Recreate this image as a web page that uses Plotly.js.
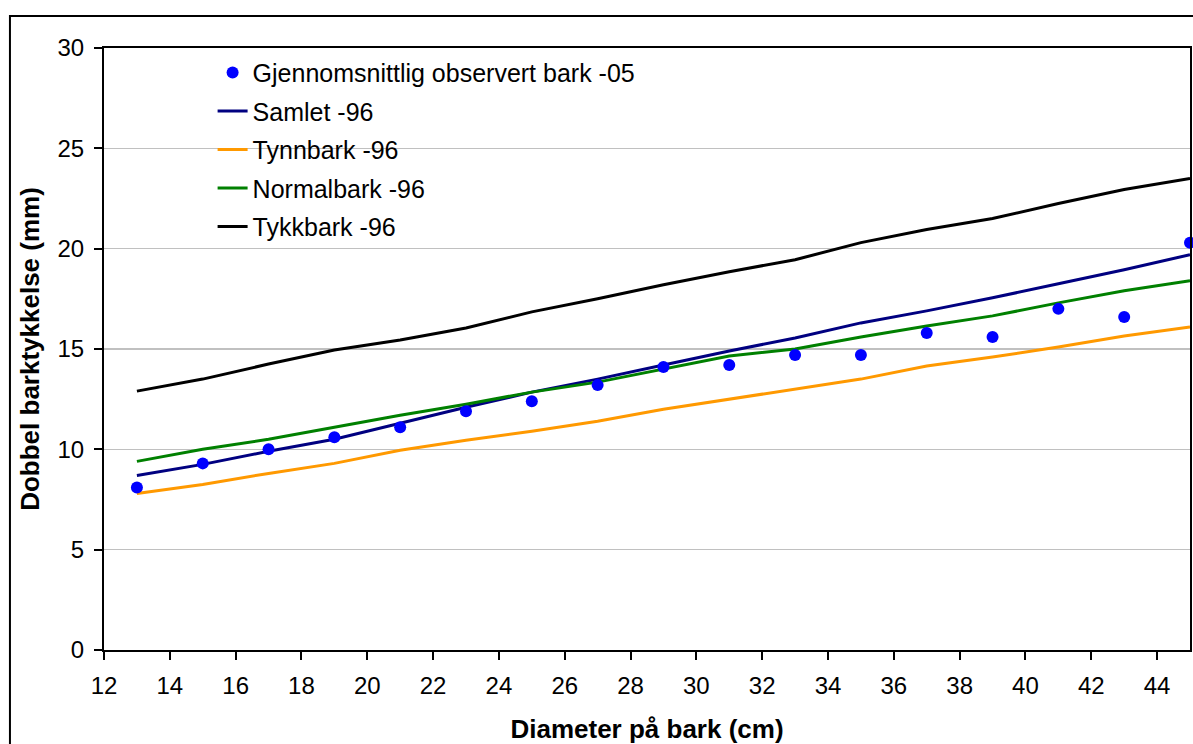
<!DOCTYPE html>
<html>
<head>
<meta charset="utf-8">
<script src="https://cdn.plot.ly/plotly-3.0.1.min.js"></script>
<style>
html,body{margin:0;padding:0;background:#fff;}
#chart{width:1193px;height:744px;}
</style>
</head>
<body>
<div id="chart"></div>
<script>
// Diameter på bark (cm)
const diameters = [13, 15, 17, 19, 21, 23, 25, 27, 29, 31, 33, 35, 37, 39, 41, 43, 45];

// Gjennomsnittlig observert bark -05
const observert05 = [8.1, 9.3, 10.0, 10.6, 11.1, 11.9, 12.4, 13.2, 14.1, 14.2, 14.7, 14.7, 15.8, 15.6, 17.0, 16.6, 20.3];
// Samlet -96
const samlet96 = [8.7, 9.25, 9.9, 10.5, 11.3, 12.1, 12.85, 13.5, 14.2, 14.9, 15.55, 16.3, 16.9, 17.55, 18.25, 18.95, 19.7];
// Tynnbark -96
const tynnbark96 = [7.8, 8.25, 8.8, 9.3, 9.95, 10.45, 10.9, 11.4, 12.0, 12.5, 13.0, 13.5, 14.15, 14.6, 15.1, 15.65, 16.1];
// Normalbark -96
const normalbark96 = [9.4, 10.0, 10.5, 11.1, 11.7, 12.25, 12.85, 13.35, 14.0, 14.65, 15.0, 15.6, 16.15, 16.65, 17.3, 17.9, 18.4];
// Tykkbark -96
const tykkbark96 = [12.9, 13.5, 14.25, 14.95, 15.45, 16.05, 16.85, 17.5, 18.2, 18.85, 19.45, 20.3, 20.95, 21.5, 22.25, 22.95, 23.5];

const seriesNames = ["Gjennomsnittlig observert bark -05", "Samlet -96", "Tynnbark -96", "Normalbark -96", "Tykkbark -96"];
const xTitle = "Diameter på bark (cm)";
const yTitle = "Dobbel barktykkelse (mm)";

const FONT = "Arial, 'Liberation Sans', sans-serif";

function lineTrace(name, ys, color, rank) {
  return {
    type: "scatter", mode: "lines", name: name, x: diameters, y: ys,
    line: {color: color, width: 3}, legendgroup: name, legendrank: rank
  };
}

const traces = [
  lineTrace(seriesNames[1], samlet96, "#000080", 2),
  lineTrace(seriesNames[2], tynnbark96, "#FF9900", 3),
  lineTrace(seriesNames[3], normalbark96, "#008000", 4),
  lineTrace(seriesNames[4], tykkbark96, "#000000", 5),
  {
    type: "scatter", mode: "markers", name: seriesNames[0], x: diameters, y: observert05,
    marker: {color: "#0000FF", size: 12}, legendgroup: seriesNames[0], legendrank: 1,
    cliponaxis: false
  }
];

const layout = {
  width: 1193, height: 744,
  margin: {l: 104, r: 3, t: 48, b: 94},
  paper_bgcolor: "#ffffff", plot_bgcolor: "#ffffff",
  font: {family: FONT, size: 24, color: "#000"},
  showlegend: true,
  legend: {
    x: 0.1, y: 0.997, xanchor: "left", yanchor: "top",
    bgcolor: "rgba(255,255,255,0)", borderwidth: 0,
    font: {family: FONT, size: 25, color: "#000"},
    tracegroupgap: 3, itemwidth: 30
  },
  xaxis: {
    range: [12, 45], dtick: 2, tick0: 12,
    showline: true, linecolor: "#000", linewidth: 2, mirror: true,
    ticks: "outside", ticklen: 8, tickwidth: 2, tickcolor: "#000",
    showgrid: false, zeroline: false,
    tickfont: {family: FONT, size: 24, color: "#000"},
    ticklabelstandoff: 5,
    title: {text: xTitle, font: {family: FONT, size: 26, color: "#000", weight: "bold"}, standoff: 24},
    automargin: false
  },
  yaxis: {
    range: [0, 30], dtick: 5, tick0: 0,
    showline: true, linecolor: "#000", linewidth: 2, mirror: true,
    ticks: "outside", ticklen: 8, tickwidth: 2, tickcolor: "#000",
    showgrid: true, gridcolor: "#c0c0c0", gridwidth: 1.5, zeroline: false,
    tickfont: {family: FONT, size: 24, color: "#000"},
    ticklabelstandoff: 5,
    title: {text: yTitle, font: {family: FONT, size: 26, color: "#000", weight: "bold"}, standoff: 10},
    automargin: false
  },
  shapes: [
    {type: "rect", xref: "paper", yref: "paper", x0: 0.0074, x1: 0.565, y0: 0.681, y1: 0.993,
     fillcolor: "#ffffff", line: {width: 0}, layer: "between"},
    {type: "rect", xref: "paper", yref: "paper", x0: -0.0866, x1: 1.3, y0: -0.4, y1: 1.0532,
     fillcolor: "rgba(0,0,0,0)", line: {color: "#000", width: 2}, layer: "above"}
  ]
};

Plotly.newPlot("chart", traces, layout, {displayModeBar: false, staticPlot: true});
</script>
</body>
</html>
